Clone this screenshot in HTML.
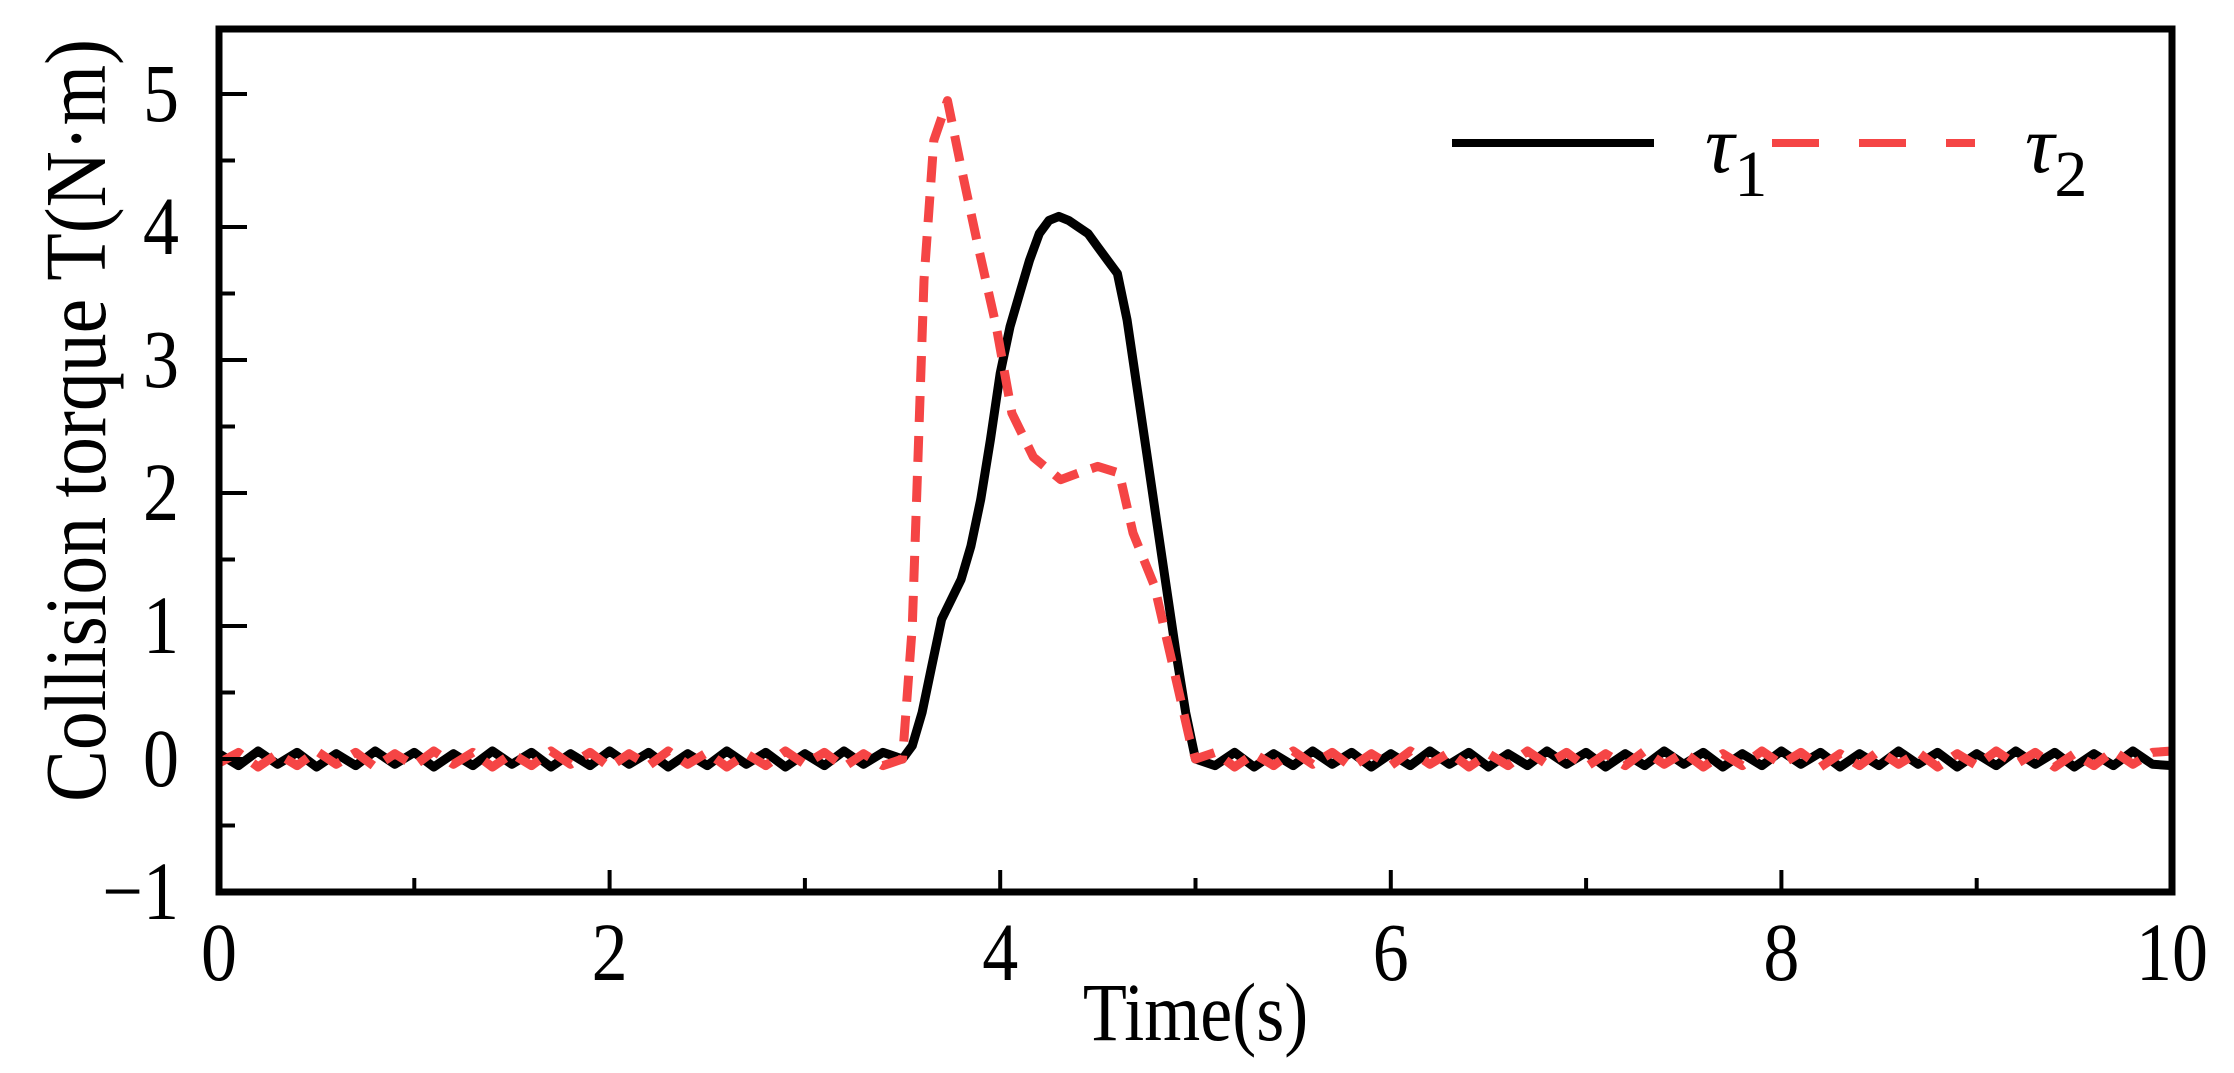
<!DOCTYPE html>
<html><head><meta charset="utf-8"><style>
html,body{margin:0;padding:0;background:#fff;}
svg{display:block;font-family:"Liberation Serif",serif;}
</style></head><body>
<svg id="chart" width="2234" height="1073" viewBox="0 0 2234 1073">
<g id="plot"></g>
</svg>
<script>
const xTicks=[0,2,4,6,8,10];
const yTicks=[-1,0,1,2,3,4,5];
const t1=[0,0.1,0.2,0.3,0.4,0.5,0.6,0.7,0.8,0.9,1.0,1.1,1.2,1.3,1.4,1.5,1.6,1.7,1.8,1.9,2.0,2.1,2.2,2.3,2.4,2.5,2.6,2.7,2.8,2.9,3.0,3.1,3.2,3.3,3.4,3.5,3.55,3.6,3.65,3.7,3.75,3.8,3.85,3.9,3.95,4.0,4.05,4.1,4.15,4.2,4.25,4.3,4.35,4.4,4.45,4.5,4.55,4.6,4.65,4.7,4.75,4.8,4.85,4.9,4.95,5.0,5.1,5.2,5.3,5.4,5.5,5.6,5.7,5.8,5.9,6.0,6.1,6.2,6.3,6.4,6.5,6.6,6.7,6.8,6.9,7.0,7.1,7.2,7.3,7.4,7.5,7.6,7.7,7.8,7.9,8.0,8.1,8.2,8.3,8.4,8.5,8.6,8.7,8.8,8.9,9.0,9.1,9.2,9.3,9.4,9.5,9.6,9.7,9.8,9.9,10.0];
const v1=[0.04,-0.05,0.06,-0.04,0.05,-0.06,0.04,-0.05,0.06,-0.04,0.05,-0.06,0.04,-0.05,0.06,-0.04,0.05,-0.06,0.04,-0.05,0.06,-0.04,0.05,-0.06,0.04,-0.05,0.06,-0.04,0.05,-0.06,0.04,-0.05,0.06,-0.04,0.05,0.0,0.1,0.35,0.7,1.05,1.2,1.35,1.6,1.95,2.4,2.9,3.25,3.5,3.75,3.95,4.05,4.08,4.05,4.0,3.95,3.85,3.75,3.65,3.3,2.8,2.3,1.8,1.3,0.8,0.35,0.0,-0.05,0.05,-0.06,0.04,-0.05,0.06,-0.04,0.05,-0.06,0.04,-0.05,0.06,-0.04,0.05,-0.06,0.04,-0.05,0.06,-0.04,0.05,-0.06,0.04,-0.05,0.06,-0.04,0.05,-0.06,0.04,-0.05,0.06,-0.04,0.05,-0.06,0.04,-0.05,0.06,-0.04,0.05,-0.06,0.04,-0.05,0.06,-0.04,0.05,-0.06,0.04,-0.05,0.06,-0.04,-0.05];
const t2=[0,0.1,0.2,0.3,0.4,0.5,0.6,0.7,0.8,0.9,1.0,1.1,1.2,1.3,1.4,1.5,1.6,1.7,1.8,1.9,2.0,2.1,2.2,2.3,2.4,2.5,2.6,2.7,2.8,2.9,3.0,3.1,3.2,3.3,3.4,3.5,3.55,3.61,3.66,3.73,3.8,3.88,3.98,4.06,4.17,4.31,4.4,4.5,4.61,4.68,4.79,4.9,4.97,5.0,5.1,5.2,5.3,5.4,5.5,5.6,5.7,5.8,5.9,6.0,6.1,6.2,6.3,6.4,6.5,6.6,6.7,6.8,6.9,7.0,7.1,7.2,7.3,7.4,7.5,7.6,7.7,7.8,7.9,8.0,8.1,8.2,8.3,8.4,8.5,8.6,8.7,8.8,8.9,9.0,9.1,9.2,9.3,9.4,9.5,9.6,9.7,9.8,9.9,10.0];
const v2=[-0.03,0.05,-0.06,0.04,-0.05,0.06,-0.04,0.05,-0.06,0.04,-0.05,0.06,-0.04,0.05,-0.06,0.04,-0.05,0.06,-0.04,0.05,-0.06,0.04,-0.05,0.06,-0.04,0.05,-0.06,0.04,-0.05,0.06,-0.04,0.05,-0.06,0.04,-0.05,0.0,1.0,3.6,4.65,4.95,4.45,3.9,3.25,2.6,2.27,2.1,2.15,2.2,2.15,1.7,1.3,0.6,0.15,0.0,0.05,-0.06,0.04,-0.05,0.06,-0.04,0.05,-0.06,0.04,-0.05,0.06,-0.04,0.05,-0.06,0.04,-0.05,0.06,-0.04,0.05,-0.06,0.04,-0.05,0.06,-0.04,0.05,-0.06,0.04,-0.05,0.06,-0.04,0.05,-0.06,0.04,-0.05,0.06,-0.04,0.05,-0.06,0.04,-0.05,0.06,-0.04,0.05,-0.06,0.04,-0.05,0.06,-0.04,0.05,0.06];

const L=219,R=2172,T=29,B=892;
const xMin=0,xMax=10,yMin=-1;
const yPix=(892-94)/6;
function X(v){return L+(v-xMin)*(R-L)/(xMax-xMin);}
function Y(v){return B-(v-yMin)*yPix;}
const NS="http://www.w3.org/2000/svg";
const g=document.getElementById('plot');
function mk(tag,attrs,parent){const e=document.createElementNS(NS,tag);for(const k in attrs)e.setAttribute(k,attrs[k]);(parent||g).appendChild(e);return e;}

function line(ts,vs,color,dash,name){
  let d='';ts.forEach((t,i)=>{d+=(i?'L':'M')+X(t).toFixed(1)+' '+Y(vs[i]).toFixed(1);});
  const p=mk('path',{d:d,fill:'none',stroke:color,'stroke-width':9,'stroke-linejoin':'round'});
  if(dash)p.setAttribute('stroke-dasharray',dash);
  
  
}
line(t1,v1,'#000',null,'tau1-line');
line(t2,v2,'#f54545','26 14','tau2-line');

const fr=mk('rect',{x:L,y:T,width:R-L,height:B-T,fill:'none',stroke:'#000','stroke-width':7});



for(let v=-1;v<=5.001;v+=0.5){
  const major=Math.abs(v-Math.round(v))<1e-6;
  const tk=mk('line',{x1:L,x2:L+(major?28:16),y1:Y(v),y2:Y(v),stroke:'#000','stroke-width':4});
  
  
}
yTicks.forEach(v=>{
  const t=mk('text',{x:0,y:0,'text-anchor':'end','font-size':72,transform:'translate('+(L-40)+','+(Y(v)+27)+') scale(1,1.15)'});
  t.textContent=v<0?'\u2212'+Math.abs(v):String(v);
  
  
});
for(let v=1;v<10;v+=1){
  const major=v%2===0;
  const tk=mk('line',{x1:X(v),x2:X(v),y1:B,y2:B-(major?22:14),stroke:'#000','stroke-width':4});
  
  
}
xTicks.forEach(v=>{
  const t=mk('text',{x:0,y:0,'text-anchor':'middle','font-size':72,transform:'translate('+X(v)+','+(B+88)+') scale(1,1.15)'});
  t.textContent=String(v);
  
  
});
const xt=mk('text',{x:0,y:0,'text-anchor':'middle','font-size':72,transform:'translate('+((L+R)/2)+',1040) scale(1,1.15)'});
xt.textContent='Time(s)';


const yt=mk('text',{x:0,y:0,'text-anchor':'middle','font-size':72,transform:'translate(105,'+((T+B)/2-40)+') rotate(-90) scale(1.08,1.2)'});
yt.setAttribute('xml:space','preserve');
yt.textContent='Collision torque  T(N\u00b7m)';



const l1=mk('line',{x1:1452,x2:1654,y1:143,y2:143,stroke:'#000','stroke-width':8});


const lt1=mk('text',{x:1705,y:172,'font-size':82,'font-style':'italic'});
lt1.innerHTML='\u03c4<tspan font-size="66" font-style="normal" dy="24">1</tspan>';


const l2=mk('line',{x1:1772,x2:1975,y1:143,y2:143,stroke:'#f54545','stroke-width':8,'stroke-dasharray':'47 40'});


const lt2=mk('text',{x:2025,y:172,'font-size':82,'font-style':'italic'});
lt2.innerHTML='\u03c4<tspan font-size="66" font-style="normal" dy="24">2</tspan>';


</script>
</body></html>
